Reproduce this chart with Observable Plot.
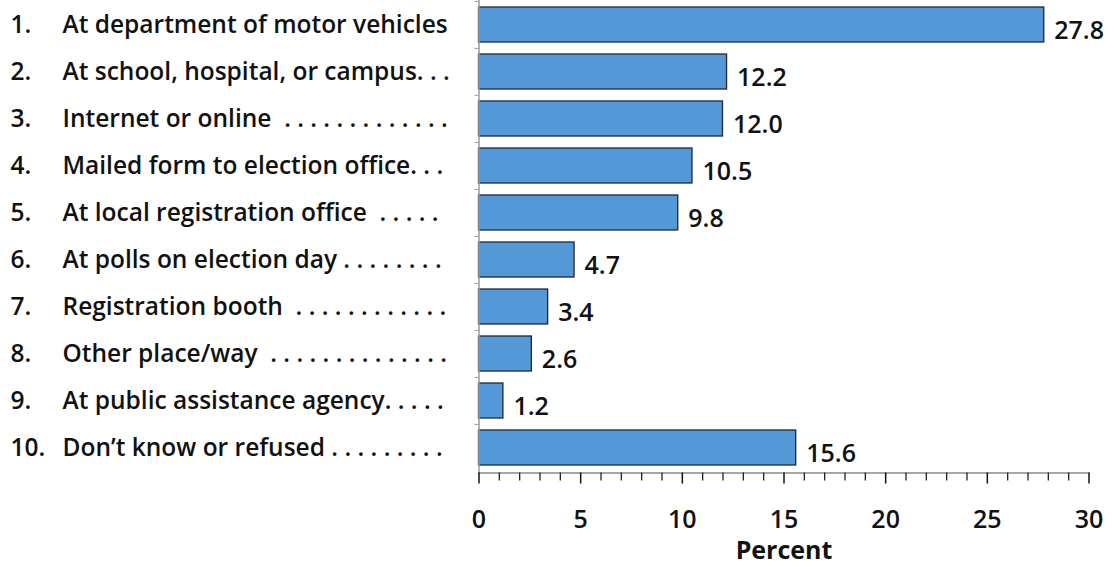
<!DOCTYPE html>
<html>
<head>
<meta charset="utf-8">
<script src="https://cdn.jsdelivr.net/npm/d3@7"></script>
<script src="https://cdn.jsdelivr.net/npm/@observablehq/plot@0.6"></script>
<style>
  html, body { margin: 0; padding: 0; background: #fff; }
  #chart svg { display: block; }
</style>
</head>
<body>
<div id="chart"></div>
<script>
const numbers = ["1.", "2.", "3.", "4.", "5.", "6.", "7.", "8.", "9.", "10."];
const labels = [
  "At department of motor vehicles",
  "At school, hospital, or campus. . .",
  "Internet or online  . . . . . . . . . . . . .",
  "Mailed form to election office. . .",
  "At local registration office  . . . . .",
  "At polls on election day . . . . . . . .",
  "Registration booth  . . . . . . . . . . . .",
  "Other place/way  . . . . . . . . . . . . . .",
  "At public assistance agency. . . . .",
  "Don\u2019t know or refused . . . . . . . . ."
];
const values = [27.8, 12.2, 12.0, 10.5, 9.8, 4.7, 3.4, 2.6, 1.2, 15.6];
const valueLabels = ["27.8", "12.2", "12.0", "10.5", "9.8", "4.7", "3.4", "2.6", "1.2", "15.6"];
const majorTicks = [0, 5, 10, 15, 20, 25, 30];
const minorTicks = [1,2,3,4,6,7,8,9,11,12,13,14,16,17,18,19,21,22,23,24,26,27,28,29];
const xLabel = "Percent";

const rows = labels.map((label, i) => ({
  num: numbers[i], label, value: values[i], text: valueLabels[i]
}));

const W = 1114, H = 567;
const marginLeft = 478.5, marginRight = 25.5, marginTop = 0, marginBottom = 94.5;
const step = (H - marginTop - marginBottom) / labels.length;
const font = "'Open Sans', 'Noto Sans', sans-serif";

const chart = Plot.plot({
  width: W,
  height: H,
  marginLeft, marginRight, marginTop, marginBottom,
  style: { fontFamily: font, color: "#111", background: "#fff" },
  x: { domain: [0, 30] },
  y: { domain: labels, axis: null, paddingInner: 0.26, paddingOuter: 0.13 },
  marks: [
    Plot.barX(rows, { x: "value", y: "label", fill: "#5498d8", stroke: "#1c2a38", strokeWidth: 1.3 }),
    Plot.frame({ anchor: "left", stroke: "#9a9a9a", strokeWidth: 1.5 }),
    Plot.ruleY(labels, { y: d => d, x1: 0, x2: 0, insetLeft: -4, dy: -step / 2, stroke: "#9a9a9a" }),
    Plot.frame({ anchor: "bottom", stroke: "#8a8a8a", strokeWidth: 1.5 }),
    Plot.axisX(minorTicks, { tickSize: 8, tickFormat: () => "", stroke: "#222", strokeWidth: 1.3, label: null }),
    Plot.axisX(majorTicks, { tickSize: 11, tickPadding: 26, fontSize: 25, fontWeight: 600, stroke: "#111", strokeWidth: 1.5, fill: "#111", label: null }),
    Plot.text([xLabel], { frameAnchor: "bottom", dy: 86, fontSize: 25, fontWeight: 700, fill: "#111" }),
    Plot.text(rows, { y: "label", text: "num", frameAnchor: "left", dx: 10 - marginLeft, textAnchor: "start", fontSize: 24.5, fontWeight: 600, fill: "#111" }),
    Plot.text(rows, { y: "label", text: "label", frameAnchor: "left", dx: 62 - marginLeft, textAnchor: "start", fontSize: 24.5, fontWeight: 600, fill: "#111" }),
    Plot.text(rows, { x: "value", y: "label", text: "text", textAnchor: "start", dx: 10, dy: 6, fontSize: 25, fontWeight: 600, fill: "#111" })
  ]
});
document.getElementById("chart").appendChild(chart);
</script>
</body>
</html>
